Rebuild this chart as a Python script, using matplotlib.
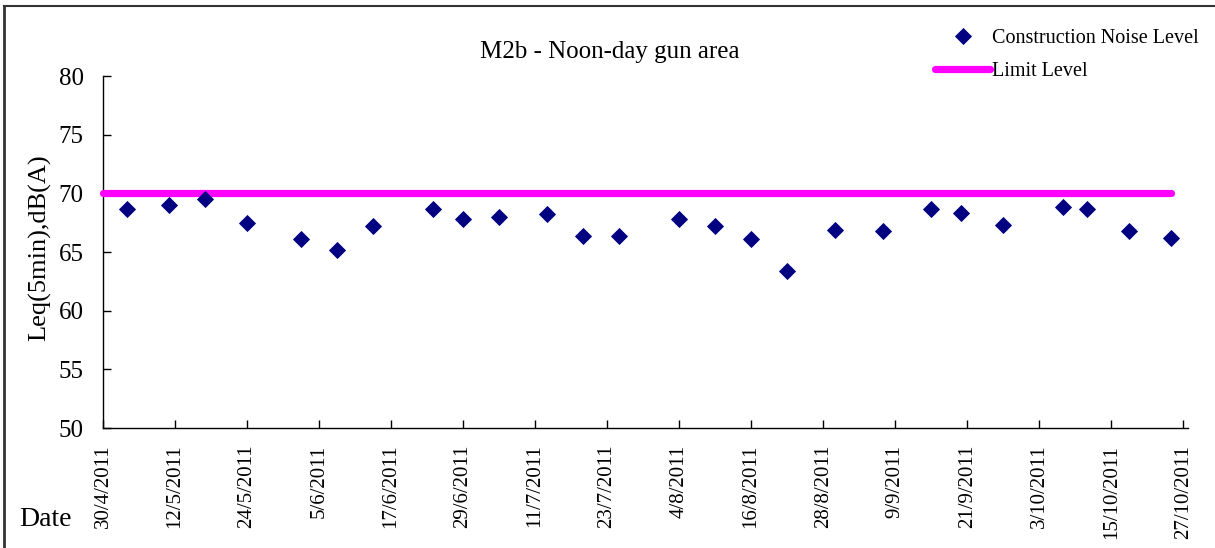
# M2b noise monitoring chart

import numpy as np
import matplotlib
matplotlib.use('Agg')
import matplotlib.pyplot as plt
import pandas as pd
from matplotlib.lines import Line2D

plt.rcParams['font.family'] = ['Liberation Serif', 'DejaVu Serif']

# Data
dates = ['2011-05-04', '2011-05-11', '2011-05-17', '2011-05-24', '2011-06-02',
         '2011-06-08', '2011-06-14', '2011-06-24', '2011-06-29', '2011-07-05',
         '2011-07-13', '2011-07-19', '2011-07-25', '2011-08-04', '2011-08-10',
         '2011-08-16', '2011-08-22', '2011-08-30', '2011-09-07', '2011-09-15',
         '2011-09-20', '2011-09-27', '2011-10-07', '2011-10-11', '2011-10-18',
         '2011-10-25']
leq = [68.7, 69.0, 69.5, 67.5, 66.1, 65.2, 67.2, 68.7, 67.8, 68.0,
       68.2, 66.4, 66.4, 67.8, 67.2, 66.1, 63.4, 66.9, 66.8, 68.7,
       68.3, 67.3, 68.8, 68.7, 66.8, 66.2]
limit_dates = ['2011-04-30', '2011-10-25']
limit_level = [70, 70]

tick_dates = ['2011-04-30', '2011-05-12', '2011-05-24', '2011-06-05', '2011-06-17',
              '2011-06-29', '2011-07-11', '2011-07-23', '2011-08-04', '2011-08-16',
              '2011-08-28', '2011-09-09', '2011-09-21', '2011-10-03', '2011-10-15',
              '2011-10-27']
tick_labels = ['30/4/2011', '12/5/2011', '24/5/2011', '5/6/2011', '17/6/2011',
               '29/6/2011', '11/7/2011', '23/7/2011', '4/8/2011', '16/8/2011',
               '28/8/2011', '9/9/2011', '21/9/2011', '3/10/2011', '15/10/2011',
               '27/10/2011']

x = pd.to_datetime(dates)
x_lim = pd.to_datetime(limit_dates)
x_ticks = pd.to_datetime(tick_dates)

W, H = 1215, 548
fig = plt.figure(figsize=(W / 100, H / 100), dpi=100)
ax = fig.add_axes([103 / W, 1 - 428 / H, (1188 - 103) / W, (428 - 76) / H])

ax.plot(x_lim, limit_level, color='#ff00ff', linewidth=5.2, solid_capstyle='round',
        clip_on=False, zorder=3, label='Limit Level')
ax.plot(x, leq, linestyle='none', marker='D', markersize=8, color='#000080',
        markeredgecolor='#000080', markeredgewidth=0.6, zorder=4,
        label='Construction Noise Level')

ax.set_ylim(50, 80)
ax.set_yticks(np.arange(50, 81, 5))
ax.set_xlim(pd.Timestamp('2011-04-30'), pd.Timestamp('2011-04-30') + pd.Timedelta(days=180.8))
ax.set_xticks(x_ticks)
ax.set_xticklabels(tick_labels, rotation=90, fontsize=15)

for s in ['top', 'right']:
    ax.spines[s].set_visible(False)
for s in ['left', 'bottom']:
    ax.spines[s].set_linewidth(1.0)
ax.tick_params(axis='y', direction='in', length=6, width=1, labelsize=18, pad=14)
ax.tick_params(axis='x', direction='in', length=6, width=1, pad=12)

fig.text(610 / W, 1 - 52 / H, 'M2b - Noon-day gun area', ha='center', va='center', fontsize=18)
fig.text(40 / W, 1 - 248 / H, 'Leq(5min),dB(A)', rotation=90, ha='center', va='center', fontsize=19)
fig.text(45 / W, 1 - 520 / H, 'Date', ha='center', va='center', fontsize=20)

handles, labels = ax.get_legend_handles_labels()
ax.legend(handles[::-1], labels[::-1], loc='upper left',
          bbox_to_anchor=(925 / W, 1 - 19 / H), bbox_transform=fig.transFigure,
          frameon=False, borderpad=0, handlelength=2.75, handletextpad=0.1,
          fontsize=14.5, labelspacing=0.7)

# chart-area border (top and left only visible)
fig.add_artist(Line2D([4 / W, 1], [1 - 5.5 / H, 1 - 5.5 / H], color='#333333', linewidth=1.5,
                      transform=fig.transFigure))
fig.add_artist(Line2D([4 / W, 4 / W], [0, 1 - 5.5 / H], color='#333333', linewidth=2,
                      transform=fig.transFigure))

fig.savefig('out.png', dpi=100)
